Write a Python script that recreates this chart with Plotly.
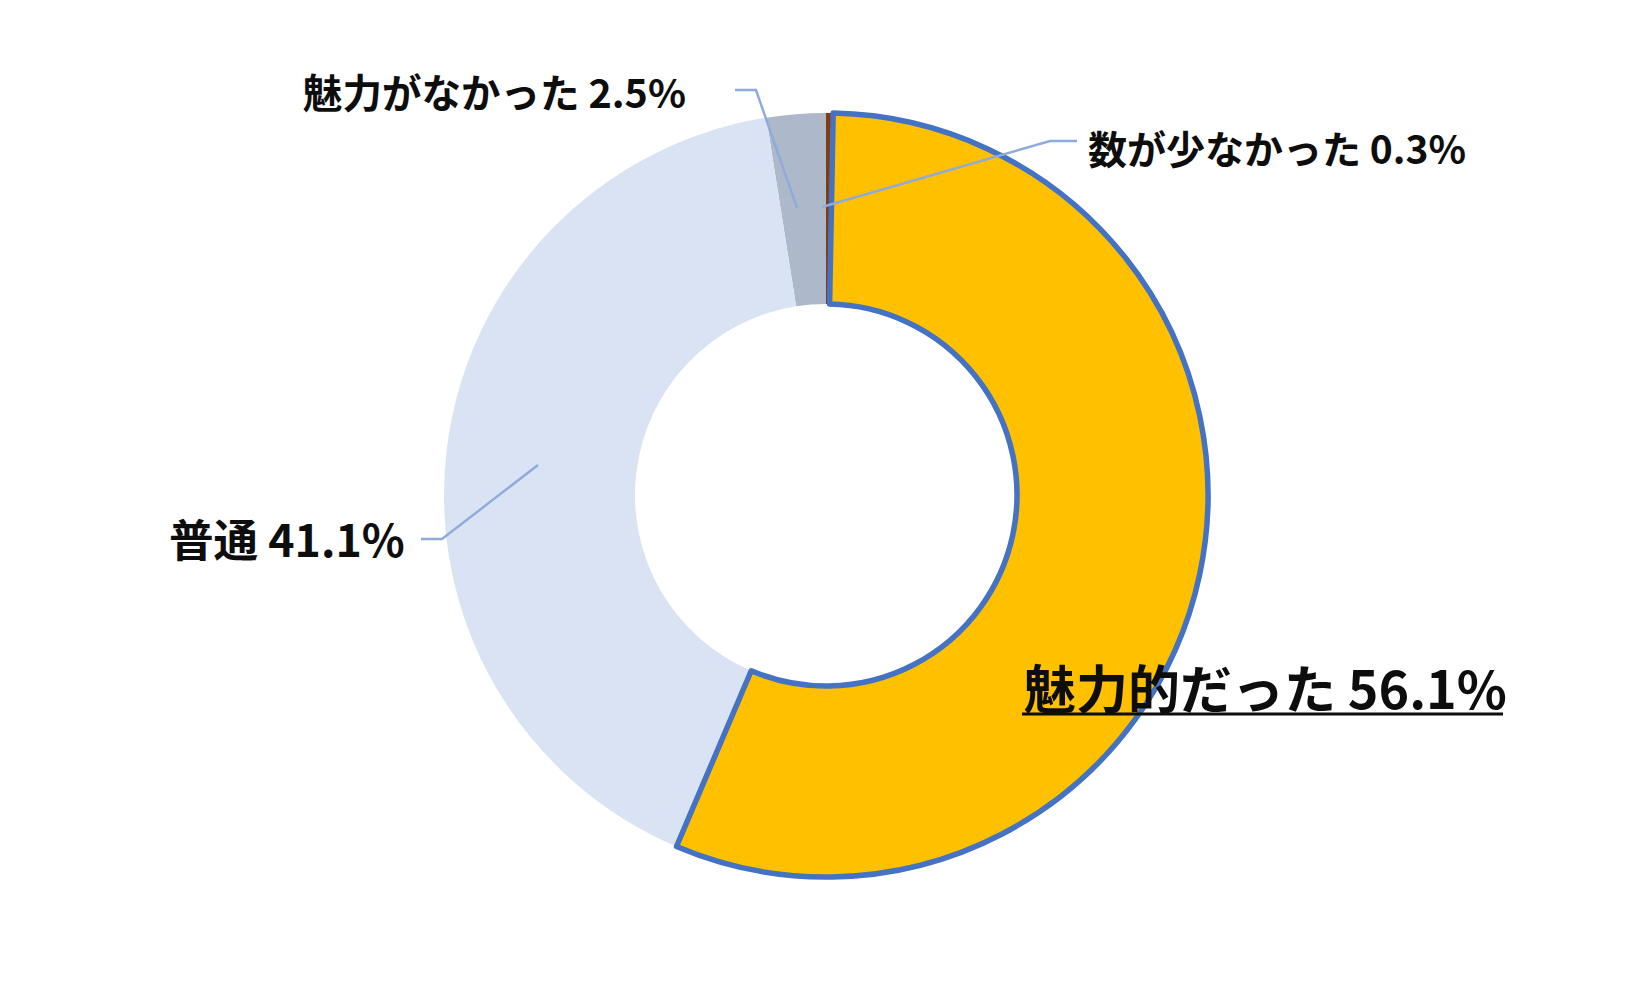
import plotly.graph_objects as go

W, H = 1651, 990
OFF = 8  # page body margin

# Data (clockwise from 12 o'clock)
categories = ["魅力的だった", "普通", "魅力がなかった", "数が少なかった"]
values = [56.1, 41.1, 2.5, 0.3]
colors = ["#FFC000", "#DAE3F3", "#ADB9CA", "#843C0C"]
line_widths = [5.5, 0, 0, 0]
line_colors = ["#4472C4", "#DAE3F3", "#ADB9CA", "#843C0C"]

# draw in reverse order counterclockwise so the outlined slice is drawn last
order = list(range(len(values)))[::-1]

cx, cy, r = 826, 495, 382

def px(x):
    return (x - OFF) / W

def py(y):
    return 1 - (y - OFF) / H

fig = go.Figure(go.Pie(
    labels=[categories[i] for i in order],
    values=[values[i] for i in order],
    marker=dict(colors=[colors[i] for i in order],
                line=dict(color=[line_colors[i] for i in order],
                          width=[line_widths[i] for i in order])),
    hole=0.5,
    sort=False,
    direction="counterclockwise",
    rotation=0,
    textinfo="none",
    hoverinfo="none",
    showlegend=False,
    domain=dict(x=[px(cx - r), px(cx + r)], y=[py(cy + r), py(cy - r)]),
))

font_family = "Noto Sans CJK JP"
txt_color = "#0D0D0D"
lead = "#8FAADC"

def label(i):
    return f"{categories[i]} {values[i]:.1f}%"

annotations = [
    dict(text=label(2), x=px(301), y=py(91), xanchor="left", yanchor="middle",
         font=dict(size=39.5, weight="bold")),
    dict(text=label(3), x=px(1086), y=py(147), xanchor="left", yanchor="middle",
         font=dict(size=39, weight="bold")),
    dict(text=label(1), x=px(407), y=py(537), xanchor="right", yanchor="middle",
         font=dict(size=44.6, weight="bold")),
    dict(text=label(0), x=px(1022), y=py(686), xanchor="left", yanchor="middle",
         font=dict(size=52, weight="bold")),
]
for a in annotations:
    a.update(xref="paper", yref="paper", showarrow=False)
    a["font"].update(family=font_family, color=txt_color)

def path(points):
    d = "M " + " L ".join(f"{px(x)},{py(y)}" for x, y in points)
    return dict(type="path", path=d, xref="paper", yref="paper",
                line=dict(color=lead, width=2.4), layer="above")

shapes = [
    path([(735, 90), (756, 90), (797, 208)]),
    path([(822, 207), (1050, 141), (1077, 141)]),
    path([(421, 539), (442, 539), (538, 465)]),
    dict(type="line", xref="paper", yref="paper", x0=px(1022), x1=px(1503),
         y0=py(714), y1=py(714), line=dict(color="#0D0D0D", width=3)),
]

fig.update_layout(
    width=W, height=H,
    margin=dict(l=0, r=0, t=0, b=0),
    paper_bgcolor="white",
    plot_bgcolor="white",
    annotations=annotations,
    shapes=shapes,
)

fig.write_html("out.html")
